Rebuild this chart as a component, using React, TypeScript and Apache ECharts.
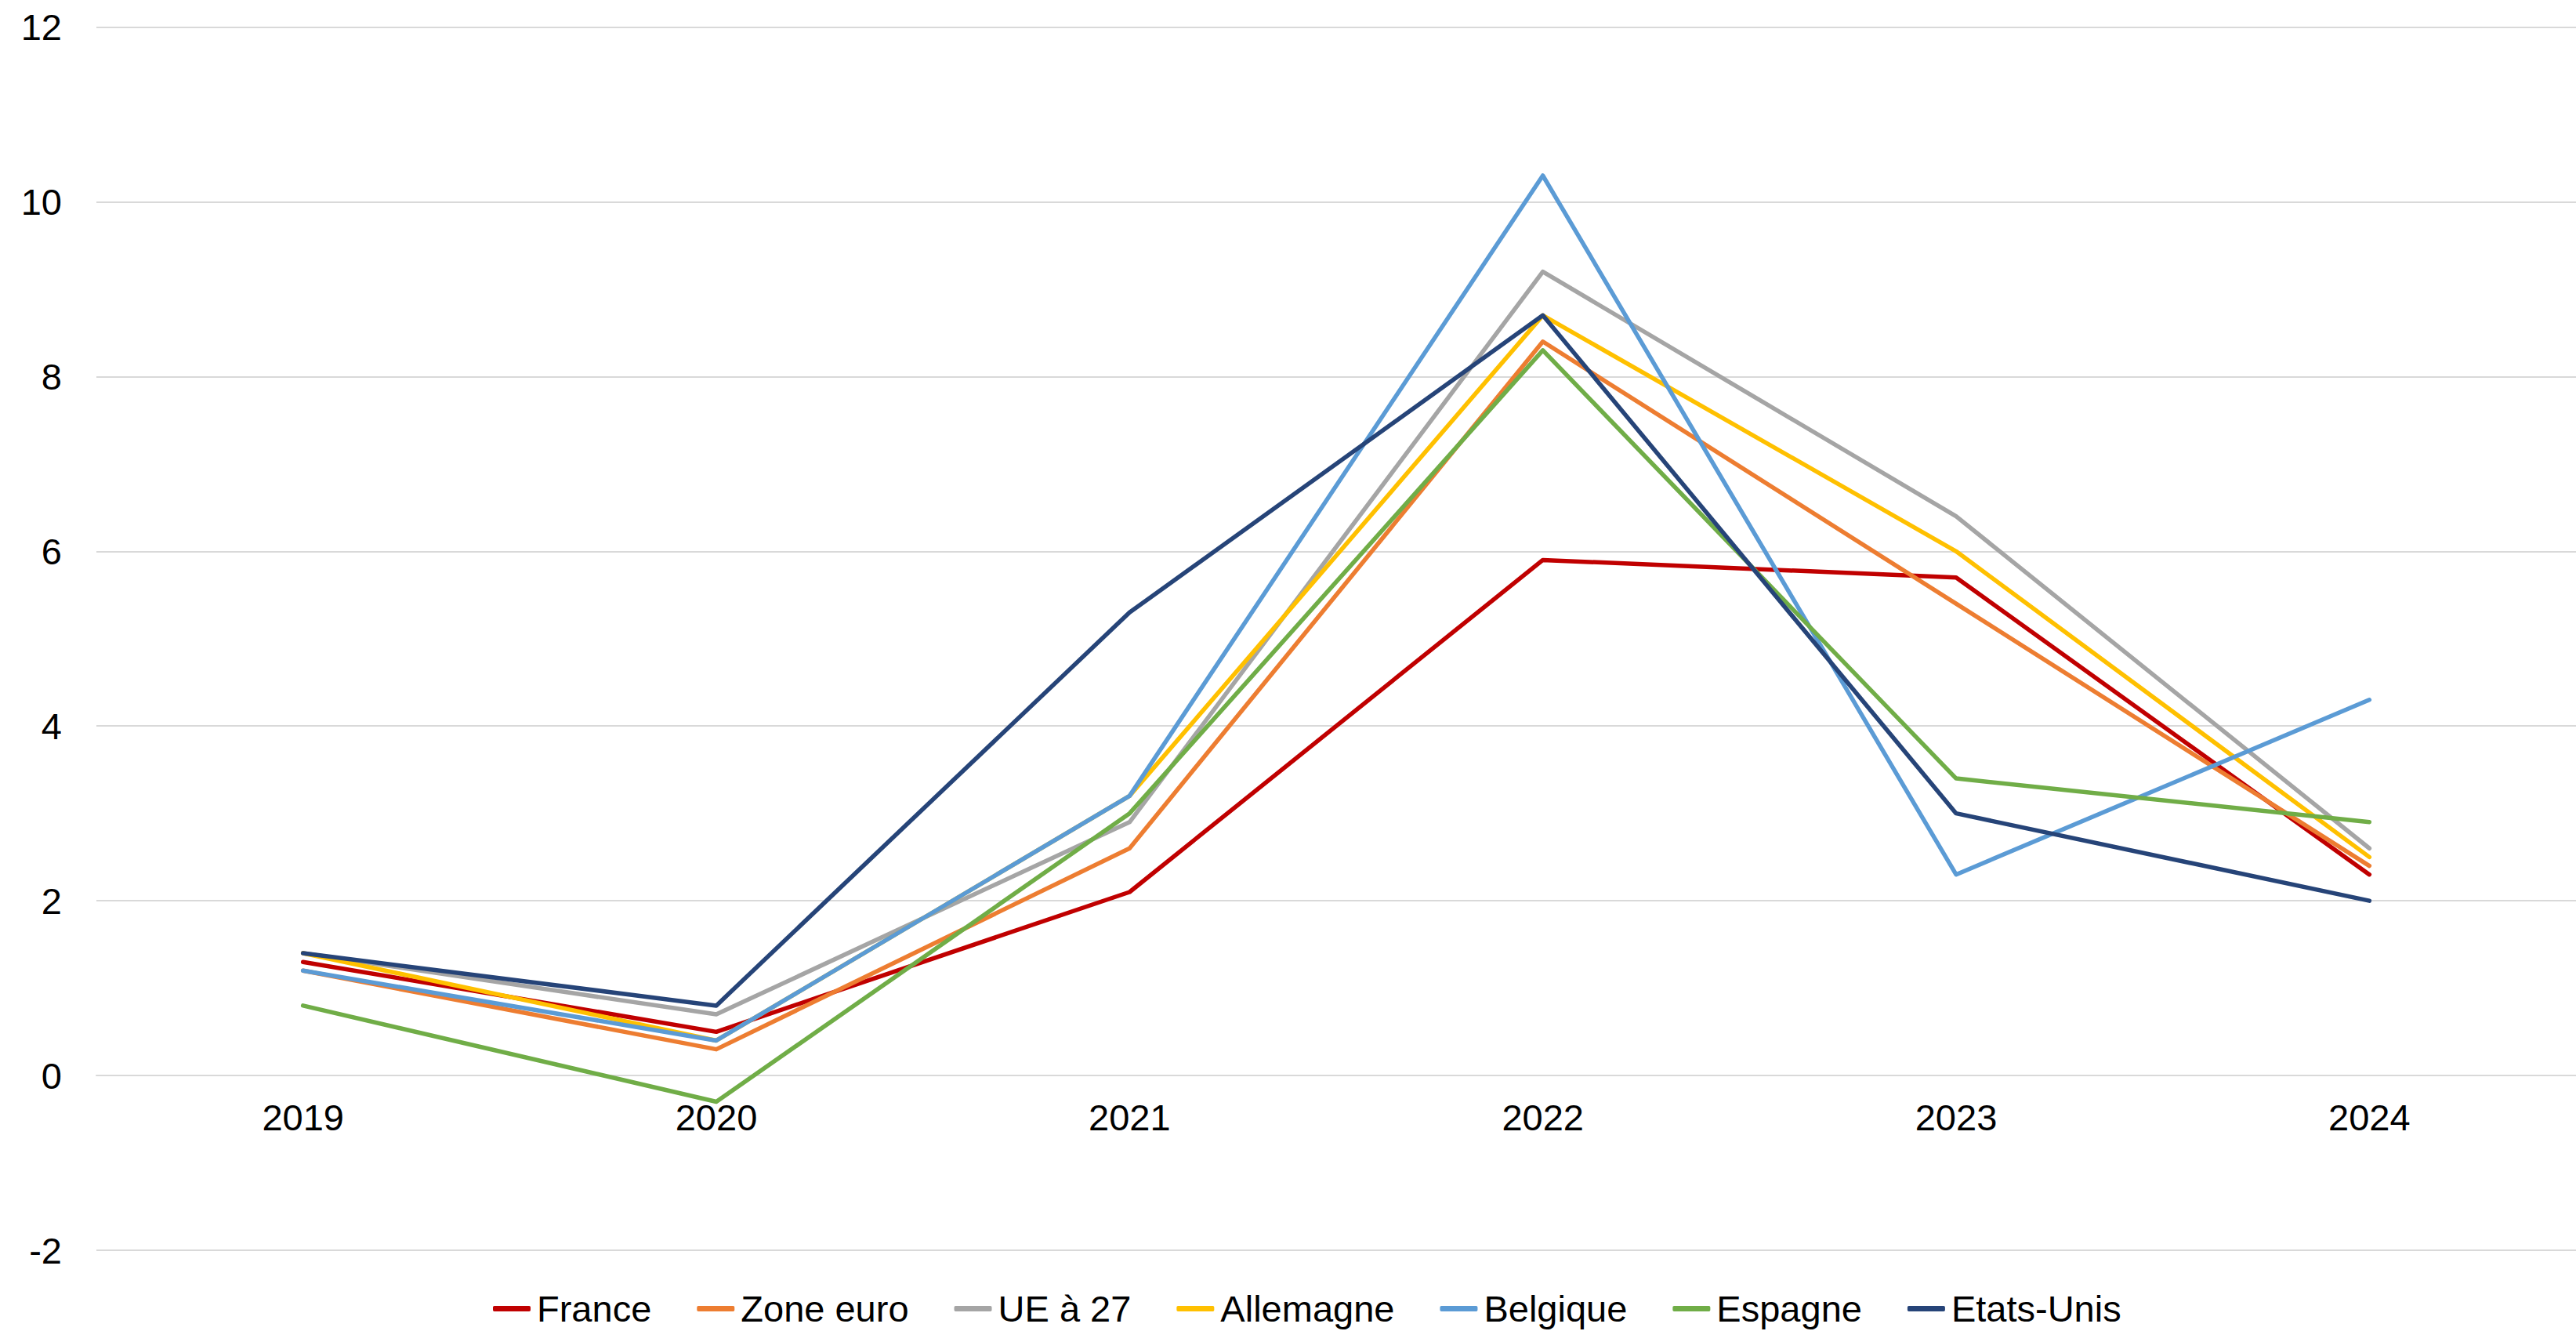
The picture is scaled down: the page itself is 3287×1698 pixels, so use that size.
import React, { useEffect, useRef } from "react";
import * as echarts from "echarts";

const years = ["2019", "2020", "2021", "2022", "2023", "2024"];
const seriesNames = ["France", "Zone euro", "UE à 27", "Allemagne", "Belgique", "Espagne", "Etats-Unis"];
const france = [1.3, 0.5, 2.1, 5.9, 5.7, 2.3];
const zoneEuro = [1.2, 0.3, 2.6, 8.4, 5.4, 2.4];
const ue27 = [1.4, 0.7, 2.9, 9.2, 6.4, 2.6];
const allemagne = [1.4, 0.4, 3.2, 8.7, 6.0, 2.5];
const belgique = [1.2, 0.4, 3.2, 10.3, 2.3, 4.3];
const espagne = [0.8, -0.3, 3.0, 8.3, 3.4, 2.9];
const etatsUnis = [1.4, 0.8, 5.3, 8.7, 3.0, 2.0];
const colors = ["#C00000", "#ED7D31", "#A5A5A5", "#FFC000", "#5B9BD5", "#70AD47", "#264478"];
const yMin = -2;
const yMax = 12;
const yStep = 2;

const allData = [france, zoneEuro, ue27, allemagne, belgique, espagne, etatsUnis];

export default function App() {
  const ref = useRef<HTMLDivElement>(null);
  useEffect(() => {
    if (!ref.current) return;
    const chart = echarts.init(ref.current, null, { renderer: "svg" });
    const font = "'Liberation Sans', Arial, sans-serif";
    const top = 34.5;
    const bottom = 103;
    const plotH = 1698 - top - bottom;
    const zeroOffset = (plotH * (0 - yMin)) / (yMax - yMin);
    chart.setOption({
      animation: false,
      backgroundColor: "#ffffff",
      textStyle: { fontFamily: font },
      grid: { left: 123, right: 0, top, bottom, containLabel: false },
      legend: {
        data: seriesNames,
        left: 624,
        top: 1641,
        itemWidth: 48,
        itemHeight: 7,
        itemGap: 58,
        icon: "roundRect",
        textStyle: { fontSize: 47, color: "#000", fontFamily: font, padding: [0, 0, 0, 3] },
      },
      xAxis: {
        type: "category",
        data: years,
        boundaryGap: true,
        position: "bottom",
        offset: -zeroOffset,
        axisLine: { show: true, onZero: false, lineStyle: { color: "#D9D9D9", width: 2 } },
        axisTick: { show: false },
        axisLabel: { fontSize: 47, color: "#000", margin: 30, fontFamily: font },
        splitLine: { show: false },
      },
      yAxis: {
        type: "value",
        min: yMin,
        max: yMax,
        interval: yStep,
        axisLine: { show: false },
        axisTick: { show: false },
        axisLabel: { fontSize: 47, color: "#000", margin: 44, fontFamily: font },
        splitLine: { show: true, lineStyle: { color: "#D9D9D9", width: 2 } },
      },
      series: seriesNames.map((name, i) => ({
        name,
        type: "line",
        data: allData[i],
        symbol: "none",
        color: colors[i],
        lineStyle: { color: colors[i], width: 5.5, cap: "round", join: "round" },
        z: 2 + i,
      })),
    });
    return () => chart.dispose();
  }, []);
  return (
    <div
      ref={ref}
      style={{ position: "fixed", left: 0, top: 0, width: 3287, height: 1698, background: "#fff" }}
    />
  );
}
